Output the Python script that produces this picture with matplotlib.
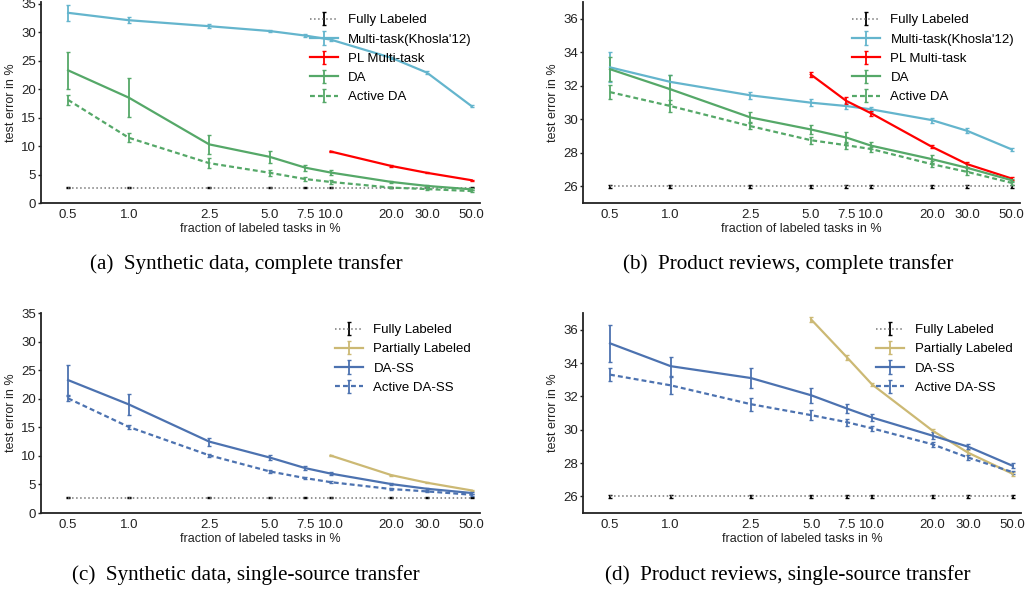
import numpy as np
import matplotlib
matplotlib.use("Agg")
import matplotlib.pyplot as plt

plt.rcParams['font.family'] = ['Liberation Sans', 'DejaVu Sans']

x_frac = [0.5, 1.0, 2.5, 5.0, 7.5, 10.0, 20.0, 30.0, 50.0]
x_ticklabels = ["0.5", "1.0", "2.5", "5.0", "7.5", "10.0", "20.0", "30.0", "50.0"]
nan = np.nan

# (a) synthetic data, complete transfer
a_full = [2.7] * 9
a_full_err = [0.08] * 9
a_multi = [33.4, 32.1, 31.05, 30.2, 29.4, 28.7, 25.5, 22.9, 17.0]
a_multi_err = [1.45, 0.5, 0.3, 0.2, 0.2, 0.3, 0.2, 0.2, 0.2]
a_pl = [nan, nan, nan, nan, nan, 9.05, 6.5, 5.3, 4.0]
a_pl_err = [nan, nan, nan, nan, nan, 0.1, 0.1, 0.1, 0.1]
a_da = [23.3, 18.5, 10.3, 8.1, 6.2, 5.35, 3.7, 3.0, 2.4]
a_da_err = [3.2, 3.4, 1.7, 1.05, 0.5, 0.4, 0.2, 0.15, 0.15]
a_act = [18.1, 11.45, 7.0, 5.3, 4.2, 3.7, 2.7, 2.45, 2.1]
a_act_err = [0.9, 0.8, 0.9, 0.5, 0.4, 0.3, 0.15, 0.2, 0.2]

# (b) product reviews, complete transfer
b_full = [26.0] * 9
b_full_err = [0.1] * 9
b_multi = [33.1, 32.23, 31.43, 30.99, 30.79, 30.59, 29.95, 29.31, 28.2]
b_multi_err = [0.9, 0.43, 0.2, 0.2, 0.2, 0.15, 0.15, 0.15, 0.1]
b_pl = [nan, nan, nan, 32.67, 31.1, 30.35, 28.36, 27.32, 26.46]
b_pl_err = [nan, nan, nan, 0.15, 0.2, 0.15, 0.1, 0.15, 0.1]
b_da = [32.99, 31.79, 30.11, 29.39, 28.91, 28.42, 27.62, 27.1, 26.36]
b_da_err = [0.73, 0.85, 0.3, 0.25, 0.3, 0.2, 0.25, 0.2, 0.1]
b_act = [31.62, 30.79, 29.59, 28.75, 28.45, 28.22, 27.32, 26.86, 26.2]
b_act_err = [0.4, 0.33, 0.2, 0.2, 0.2, 0.15, 0.2, 0.2, 0.1]

# (c) synthetic data, single-source transfer
c_full = [2.7] * 9
c_full_err = [0.08] * 9
c_part = [nan, nan, nan, nan, nan, 10.06, 6.63, 5.3, 3.95]
c_part_err = [nan, nan, nan, nan, nan, 0.1, 0.1, 0.1, 0.1]
c_da = [23.26, 19.0, 12.5, 9.7, 7.85, 6.9, 5.06, 4.24, 3.5]
c_da_err = [2.6, 1.9, 0.7, 0.4, 0.3, 0.2, 0.2, 0.15, 0.2]
c_act = [20.06, 15.06, 10.1, 7.27, 6.1, 5.4, 4.19, 3.78, 3.2]
c_act_err = [0.4, 0.3, 0.3, 0.2, 0.15, 0.15, 0.15, 0.15, 0.15]

# (d) product reviews, single-source transfer
d_full = [26.0] * 9
d_full_err = [0.1] * 9
d_part = [nan, nan, nan, 36.6, 34.35, 32.72, 29.94, 28.62, 27.35]
d_part_err = [nan, nan, nan, 0.15, 0.15, 0.1, 0.1, 0.15, 0.1]
d_da = [35.18, 33.81, 33.1, 32.06, 31.27, 30.73, 29.64, 28.98, 27.83]
d_da_err = [1.12, 0.58, 0.62, 0.45, 0.27, 0.2, 0.2, 0.15, 0.15]
d_act = [33.3, 32.66, 31.53, 30.87, 30.45, 30.08, 29.12, 28.33, 27.45]
d_act_err = [0.4, 0.5, 0.4, 0.3, 0.2, 0.15, 0.15, 0.15, 0.1]

C_FULL = "#777777"
C_MULTI = "#64b5cd"
C_RED = "#ff0000"
C_GREEN = "#55a868"
C_BLUE = "#4c72b0"
C_TAN = "#ccb974"
C_TXT = "#222222"


def draw_panel(ax, series, ylim, yticks, legend_x, legend_y):
    for y, err, color, ecolor, ls, label in series:
        eb = ax.errorbar(x_frac, y, yerr=err, color=color, ecolor=ecolor,
                         lw=1.6 if ls != ":" else 1.1, elinewidth=1.3,
                         capsize=1.2, capthick=1.0, label=label)
        line = eb[0]
        if ls == "--":
            line.set_dashes((2.2, 1.4))
        elif ls == ":":
            line.set_linestyle(":")
    ax.set_xscale("log")
    ax.set_xlim(0.367, 55)
    ax.set_xticks(x_frac)
    ax.set_xticklabels(x_ticklabels)
    ax.minorticks_off()
    ax.set_ylim(*ylim)
    ax.set_yticks(yticks)
    for s in ["top", "right"]:
        ax.spines[s].set_visible(False)
    for s in ["left", "bottom"]:
        ax.spines[s].set_linewidth(1.3)
        ax.spines[s].set_color(C_TXT)
    ax.tick_params(axis="y", labelsize=9.5, length=2.5, width=1, color=C_TXT,
                   pad=1, labelcolor=C_TXT)
    ax.tick_params(axis="x", labelsize=9.5, length=0, pad=4, labelcolor=C_TXT)
    ax.set_ylabel("test error in %", fontsize=9, labelpad=3, color=C_TXT)
    ax.set_xlabel("fraction of labeled tasks in %", fontsize=9,
                  labelpad=2, color=C_TXT)
    ax.legend(loc="upper left", bbox_to_anchor=(legend_x, legend_y), frameon=False,
              fontsize=9.5, borderpad=0, borderaxespad=0, handlelength=2.1,
              handletextpad=0.8, labelspacing=0.53)


fig = plt.figure(figsize=(10.3, 5.92), dpi=100)
W, H = 1030.0, 592.0


def axes_px(l, t, r, b):
    return fig.add_axes([l / W, 1 - b / H, (r - l) / W, (b - t) / H])


ax_a = axes_px(41, 2, 480, 203)
ax_b = axes_px(583, 2, 1020, 203)
ax_c = axes_px(41, 313, 480, 513)
ax_d = axes_px(583, 313, 1021, 513)

draw_panel(ax_a, [
    (a_full, a_full_err, C_FULL, "black", ":", "Fully Labeled"),
    (a_multi, a_multi_err, C_MULTI, C_MULTI, "-", "Multi-task(Khosla'12)"),
    (a_pl, a_pl_err, C_RED, C_RED, "-", "PL Multi-task"),
    (a_da, a_da_err, C_GREEN, C_GREEN, "-", "DA"),
    (a_act, a_act_err, C_GREEN, C_GREEN, "--", "Active DA"),
], (0, 35.3), [0, 5, 10, 15, 20, 25, 30, 35], 0.613, 0.94)

draw_panel(ax_b, [
    (b_full, b_full_err, C_FULL, "black", ":", "Fully Labeled"),
    (b_multi, b_multi_err, C_MULTI, C_MULTI, "-", "Multi-task(Khosla'12)"),
    (b_pl, b_pl_err, C_RED, C_RED, "-", "PL Multi-task"),
    (b_da, b_da_err, C_GREEN, C_GREEN, "-", "DA"),
    (b_act, b_act_err, C_GREEN, C_GREEN, "--", "Active DA"),
], (25, 37), [26, 28, 30, 32, 34, 36], 0.616, 0.94)

draw_panel(ax_c, [
    (c_full, c_full_err, C_FULL, "black", ":", "Fully Labeled"),
    (c_part, c_part_err, C_TAN, C_TAN, "-", "Partially Labeled"),
    (c_da, c_da_err, C_BLUE, C_BLUE, "-", "DA-SS"),
    (c_act, c_act_err, C_BLUE, C_BLUE, "--", "Active DA-SS"),
], (0, 35), [0, 5, 10, 15, 20, 25, 30, 35], 0.67, 0.945)

draw_panel(ax_d, [
    (d_full, d_full_err, C_FULL, "black", ":", "Fully Labeled"),
    (d_part, d_part_err, C_TAN, C_TAN, "-", "Partially Labeled"),
    (d_da, d_da_err, C_BLUE, C_BLUE, "-", "DA-SS"),
    (d_act, d_act_err, C_BLUE, C_BLUE, "--", "Active DA-SS"),
], (25, 37), [26, 28, 30, 32, 34, 36], 0.67, 0.945)

cap_kw = dict(ha="center", va="center", fontsize=15.2, family=["Liberation Serif", "DejaVu Serif"])
fig.text(246 / W, 1 - 264 / H, "(a)  Synthetic data, complete transfer", **cap_kw)
fig.text(788 / W, 1 - 264 / H, "(b)  Product reviews, complete transfer", **cap_kw)
fig.text(246 / W, 1 - 575 / H, "(c)  Synthetic data, single-source transfer", **cap_kw)
fig.text(788 / W, 1 - 575 / H, "(d)  Product reviews, single-source transfer", **cap_kw)

fig.savefig("out.png", dpi=100)
